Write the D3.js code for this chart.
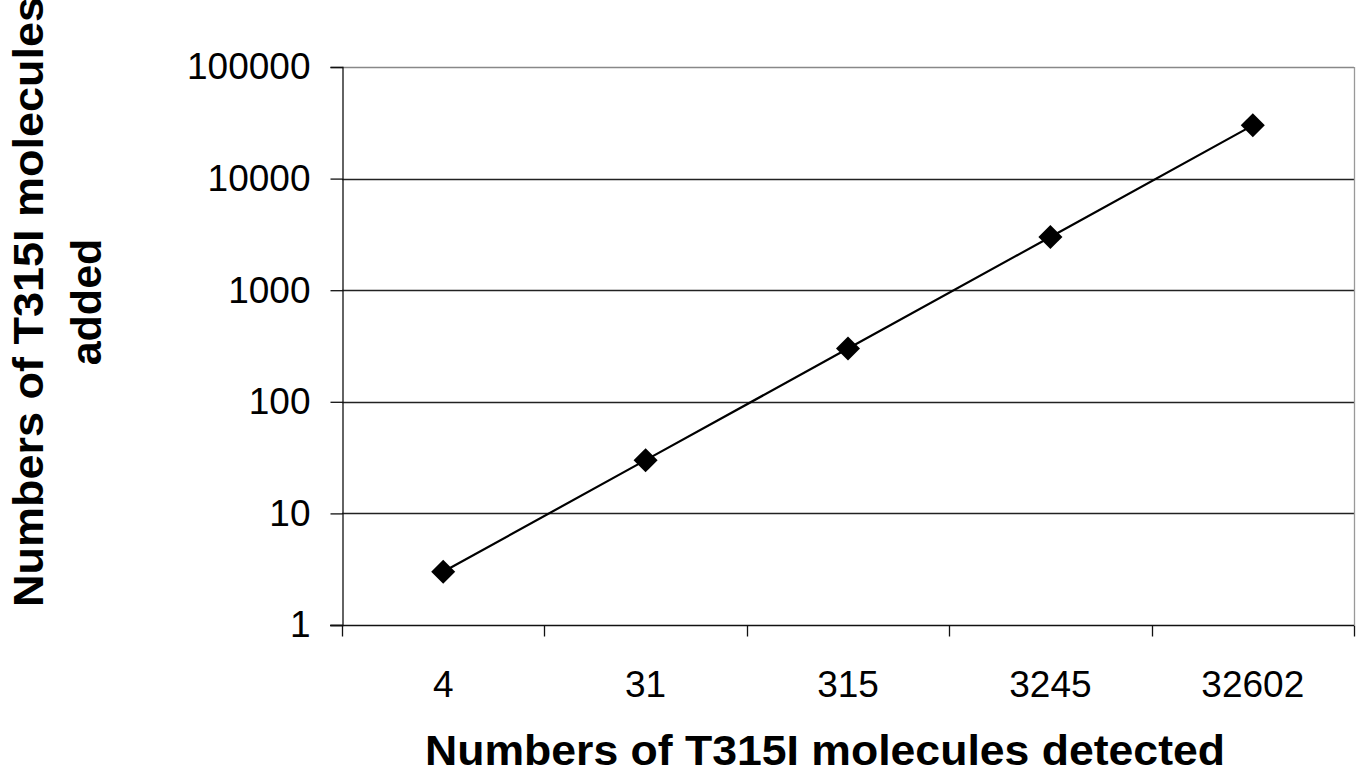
<!DOCTYPE html>
<html>
<head>
<meta charset="utf-8">
<script src="https://cdn.jsdelivr.net/npm/d3@7"></script>
<style>
  body { margin: 0; background: #fff; }
  svg { display: block; font-family: "Liberation Sans", Arial, sans-serif; }
</style>
</head>
<body>
<script>
// data
const categories = ["4", "31", "315", "3245", "32602"];
const added = [3, 30, 300, 3000, 30000];
const yTicks = [1, 10, 100, 1000, 10000, 100000];

const width = 1362, height = 774;
const m = { left: 342, right: 8, top: 67, bottom: 149 };

const svg = d3.select("body").append("svg")
  .attr("width", width)
  .attr("height", height);

const x = d3.scaleBand()
  .domain(categories)
  .range([m.left, width - m.right]);

const y = d3.scaleLog()
  .domain([1, 100000])
  .range([height - m.bottom, m.top]);

// gridlines
svg.append("g")
  .selectAll("line")
  .data(yTicks.slice(1))
  .join("line")
  .attr("x1", m.left)
  .attr("x2", width - m.right)
  .attr("y1", d => Math.round(y(d)) + 0.5)
  .attr("y2", d => Math.round(y(d)) + 0.5)
  .attr("stroke", (d, i, a) => i === a.length - 1 ? "#888" : "#222")
  .attr("stroke-width", 1.3);

// right border
svg.append("line")
  .attr("x1", width - m.right + 0.5)
  .attr("x2", width - m.right + 0.5)
  .attr("y1", m.top)
  .attr("y2", height - m.bottom)
  .attr("stroke", "#999")
  .attr("stroke-width", 1.3);

// y axis
const yAxis = svg.append("g")
  .attr("transform", `translate(${m.left + 0.5},0)`)
  .call(d3.axisLeft(y).tickValues(yTicks).tickFormat(d3.format("d")).tickSize(12).tickPadding(20));
yAxis.select(".domain").attr("stroke", "#111").attr("stroke-width", 1.3);
yAxis.selectAll(".tick line").attr("stroke", "#111").attr("stroke-width", 1.3);
yAxis.selectAll(".tick text")
  .attr("font-size", 37)
  .attr("fill", "#000")
  .attr("font-family", "Liberation Sans, Arial, sans-serif");

// x axis with ticks between categories
const xAxisY = Math.round(y(1)) + 0.5;
svg.append("line")
  .attr("x1", m.left - 12)
  .attr("x2", width - m.right)
  .attr("y1", xAxisY)
  .attr("y2", xAxisY)
  .attr("stroke", "#111")
  .attr("stroke-width", 1.3);

const bounds = categories.map(c => x(c)).concat([x.range()[1]]);
svg.append("g")
  .selectAll("line")
  .data(bounds)
  .join("line")
  .attr("x1", d => Math.round(d) + 0.5)
  .attr("x2", d => Math.round(d) + 0.5)
  .attr("y1", xAxisY)
  .attr("y2", xAxisY + 11)
  .attr("stroke", "#111")
  .attr("stroke-width", 1.3);

svg.append("g")
  .selectAll("text")
  .data(categories)
  .join("text")
  .attr("x", d => x(d) + x.bandwidth() / 2)
  .attr("y", 697)
  .attr("text-anchor", "middle")
  .attr("font-size", 37)
  .text(d => d);

// line + markers
const pts = categories.map((c, i) => [x(c) + x.bandwidth() / 2, y(added[i])]);

svg.append("path")
  .attr("d", d3.line()(pts))
  .attr("fill", "none")
  .attr("stroke", "#000")
  .attr("stroke-width", 2.2);

svg.append("g")
  .selectAll("path")
  .data(pts)
  .join("path")
  .attr("transform", d => `translate(${d[0]},${d[1]}) rotate(45)`)
  .attr("d", "M-8.5,-8.5H8.5V8.5H-8.5Z")
  .attr("fill", "#000");

// axis titles
svg.append("text")
  .attr("x", 825)
  .attr("y", 765)
  .attr("text-anchor", "middle")
  .attr("font-size", 42)
  .attr("font-weight", "bold")
  .attr("textLength", 800)
  .attr("lengthAdjust", "spacingAndGlyphs")
  .text("Numbers of T315I molecules detected");

const yTitle = svg.append("text")
  .attr("transform", "translate(0,302) rotate(-90)")
  .attr("text-anchor", "middle")
  .attr("font-size", 43)
  .attr("font-weight", "bold");
yTitle.append("tspan").attr("x", 0).attr("y", 43)
  .attr("textLength", 610)
  .attr("lengthAdjust", "spacingAndGlyphs")
  .text("Numbers of T315I molecules");
yTitle.append("tspan").attr("x", 0).attr("y", 101).text("added");
</script>
</body>
</html>
